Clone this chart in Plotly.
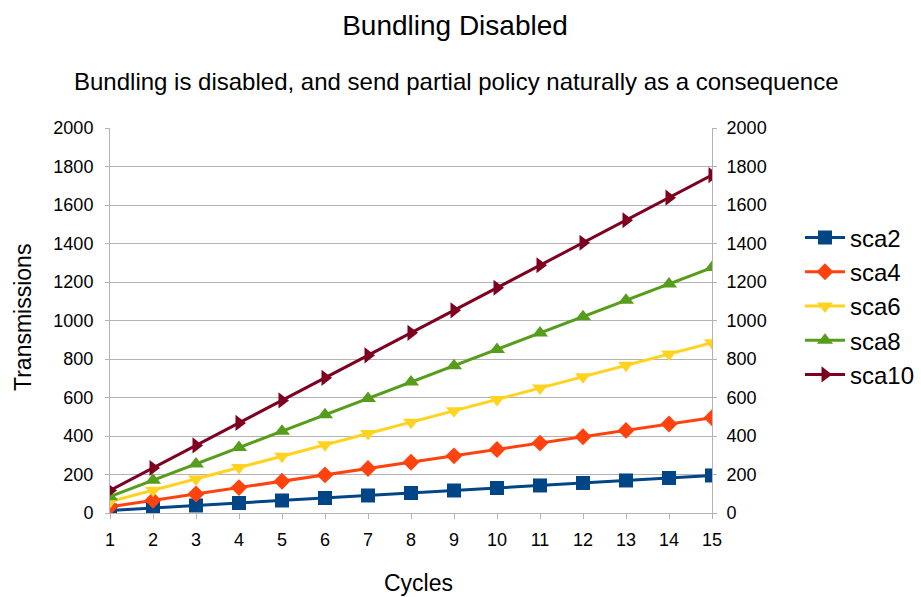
import plotly.graph_objects as go

cycles = list(range(1, 16))
series_names = ["sca2", "sca4", "sca6", "sca8", "sca10"]
sca2 = [13, 26, 39, 52, 65, 78, 91, 104, 117, 130, 143, 156, 169, 182, 195]
sca4 = [33, 66, 99, 132, 165, 198, 231, 264, 297, 330, 363, 396, 429, 462, 495]
sca6 = [59, 118, 177, 236, 295, 354, 413, 472, 531, 590, 649, 708, 767, 826, 885]
sca8 = [85, 170, 255, 340, 425, 510, 595, 680, 765, 850, 935, 1020, 1105, 1190, 1275]
sca10 = [117, 234, 351, 468, 585, 702, 819, 936, 1053, 1170, 1287, 1404, 1521, 1638, 1755]
y_ticks = list(range(0, 2001, 200))

colors = ["#004586", "#ff420e", "#ffd320", "#579d1c", "#7e0021"]
symbols = ["square", "diamond", "triangle-down", "triangle-up", "triangle-right"]
sizes = [14, 13, 14, 14, 14]

FONT = "Liberation Sans, Arial, sans-serif"
BLACK = "#000000"
GRID = "#b3b3b3"

# plot area in pixels
L, R, T, B = 110, 712, 128, 513
W, H = 921, 597

fig = go.Figure()
for name, vals, c, s, sz in zip(series_names, [sca2, sca4, sca6, sca8, sca10], colors, symbols, sizes):
    fig.add_trace(go.Scatter(
        x=cycles, y=vals, name=name, mode="lines+markers",
        line=dict(color=c, width=3),
        marker=dict(symbol=s, size=sz, color=c),
    ))

# invisible trace so the secondary (right) axis is drawn
fig.add_trace(go.Scatter(x=cycles, y=sca2, yaxis="y2", mode="lines",
                         line=dict(width=0), opacity=0, showlegend=False,
                         hoverinfo="skip"))

axis_common = dict(
    range=[0, 2000], tickvals=y_ticks, showline=True, linecolor=GRID,
    linewidth=1, gridcolor=GRID, gridwidth=1, zeroline=False,
    tickfont=dict(family=FONT, size=18, color=BLACK),
    ticks="outside", ticklen=4, tickcolor=GRID, automargin=False,
)

fig.update_layout(
    width=W, height=H,
    margin=dict(l=L, r=W - R, t=T, b=H - B, autoexpand=False),
    paper_bgcolor="white", plot_bgcolor="white",
    font=dict(family=FONT, color=BLACK),
    title=dict(text="Bundling Disabled", x=455 / W, xref="container", xanchor="center",
               y=1 - 25 / H, yref="container", yanchor="middle",
               font=dict(size=28, family=FONT, color=BLACK)),
    xaxis=dict(
        range=[1, 15], tickvals=cycles, showline=True, linecolor=GRID,
        showgrid=False, zeroline=False, ticks="outside", ticklen=5,
        tickcolor=GRID, tickfont=dict(family=FONT, size=18, color=BLACK),
        ticklabelstandoff=5, automargin=False,
    ),
    yaxis=dict(**axis_common, ticklabelstandoff=8),
    yaxis2=dict(**axis_common, overlaying="y", side="right", showgrid=False,
                ticklabelstandoff=6),
    legend=dict(x=(800 - L) / (R - L), y=(B - 306) / (B - T), xanchor="left",
                yanchor="middle",
                font=dict(family=FONT, size=24, color=BLACK),
                tracegroupgap=0, itemwidth=40),
    showlegend=True,
)

fig.add_annotation(
    text="Bundling is disabled, and send partial policy naturally as a consequence",
    xref="paper", yref="paper", x=(456 - L) / (R - L), y=(B - 81) / (B - T),
    xanchor="center", yanchor="middle", showarrow=False,
    font=dict(family=FONT, size=24, color=BLACK),
)

# axis titles
fig.add_annotation(
    text="Cycles", xref="paper", yref="paper",
    x=(418 - L) / (R - L), y=(B - 583) / (B - T),
    xanchor="center", yanchor="middle", showarrow=False,
    font=dict(family=FONT, size=23, color=BLACK),
)
fig.add_annotation(
    text="Transmissions", xref="paper", yref="paper", textangle=-90,
    x=(23 - L) / (R - L), y=(B - 318) / (B - T),
    xanchor="center", yanchor="middle", showarrow=False,
    font=dict(family=FONT, size=23, color=BLACK),
)

fig.write_html("out.html")
